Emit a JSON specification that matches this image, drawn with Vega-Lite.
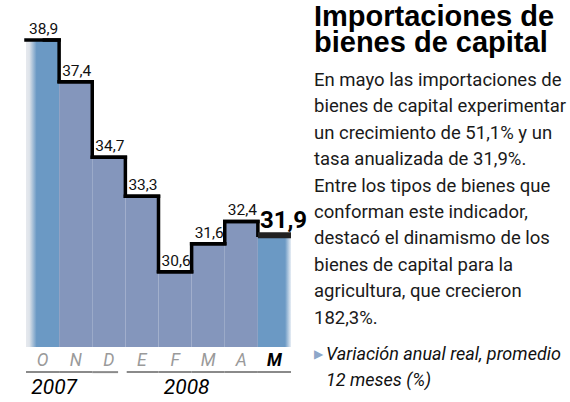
{
  "$schema": "https://vega.github.io/schema/vega-lite/v6.json",
  "autosize": {"type": "pad"},
  "padding": {"left": 23, "top": 0, "right": 0, "bottom": 0},
  "bounds": "flush",
  "spacing": 23,
  "datasets": {
    "serie": [
      {"mes": "2007-10", "anio": "2007", "valor": 38.9},
      {"mes": "2007-11", "anio": "2007", "valor": 37.4},
      {"mes": "2007-12", "anio": "2007", "valor": 34.7},
      {"mes": "2008-01", "anio": "2008", "valor": 33.3},
      {"mes": "2008-02", "anio": "2008", "valor": 30.6},
      {"mes": "2008-03", "anio": "2008", "valor": 31.6},
      {"mes": "2008-04", "anio": "2008", "valor": 32.4},
      {"mes": "2008-05", "anio": "2008", "valor": 31.9}
    ],
    "texto": [
      {"orden": 1, "tipo": "titulo", "linea": "Importaciones de"},
      {"orden": 2, "tipo": "titulo", "linea": "bienes de capital"},
      {"orden": 3, "tipo": "cuerpo", "linea": "En mayo las importaciones de"},
      {"orden": 4, "tipo": "cuerpo", "linea": "bienes de capital experimentar"},
      {"orden": 5, "tipo": "cuerpo", "linea": "un crecimiento de 51,1% y un"},
      {"orden": 6, "tipo": "cuerpo", "linea": "tasa anualizada de 31,9%."},
      {"orden": 7, "tipo": "cuerpo", "linea": "Entre los tipos de bienes que"},
      {"orden": 8, "tipo": "cuerpo", "linea": "conforman este indicador,"},
      {"orden": 9, "tipo": "cuerpo", "linea": "destacó el dinamismo de los"},
      {"orden": 10, "tipo": "cuerpo", "linea": "bienes de capital para la"},
      {"orden": 11, "tipo": "cuerpo", "linea": "agricultura, que crecieron"},
      {"orden": 12, "tipo": "cuerpo", "linea": "182,3%."},
      {"orden": 13, "tipo": "nota", "linea": "Variación anual real, promedio"},
      {"orden": 14, "tipo": "nota", "linea": "12 meses (%)"}
    ]
  },
  "hconcat": [
    {
      "width": 265,
      "height": 347,
      "data": {"name": "serie"},
      "encoding": {
        "x": {
          "field": "mes", "type": "ordinal",
          "scale": {"domain": ["2007-10","2007-11","2007-12","2008-01","2008-02","2008-03","2008-04","2008-05"], "paddingInner": 0, "paddingOuter": 0},
          "axis": {
            "title": null, "domain": false, "ticks": false, "labelAngle": 0, "labelPadding": 4, "zindex": 1,
            "labelFont": "Roboto, sans-serif",
            "labelFontSize": 17.5, "labelFontStyle": "italic",
            "labelColor": {"condition": {"test": "datum.value === '2008-05'", "value": "#000000"}, "value": "#9a9a9a"},
            "labelFontWeight": {"condition": {"test": "datum.value === '2008-05'", "value": "bold"}, "value": "normal"},
            "labelExpr": "{'2007-10':'O','2007-11':'N','2007-12':'D','2008-01':'E','2008-02':'F','2008-03':'M','2008-04':'A','2008-05':'M'}[datum.value]"
          }
        },
        "y": {
          "field": "valor", "type": "quantitative",
          "scale": {"domain": [27.9, 40.33], "nice": false, "zero": false},
          "axis": null
        }
      },
      "layer": [
        {
          "mark": {"type": "bar"},
          "encoding": {
            "y2": {"datum": 27.9},
            "color": {
              "condition": [
                {"test": "datum.mes === '2007-10'", "value": {"gradient": "linear", "x1": 0, "x2": 1, "y1": 0, "y2": 0, "stops": [{"offset": 0, "color": "#e6e9ee"}, {"offset": 0.1, "color": "#dfe4ea"}, {"offset": 0.32, "color": "#6b99c4"}, {"offset": 1, "color": "#6b99c4"}]}},
                {"test": "datum.mes === '2008-05'", "value": {"gradient": "linear", "x1": 0, "x2": 1, "y1": 0, "y2": 0, "stops": [{"offset": 0, "color": "#6b99c4"}, {"offset": 0.82, "color": "#6b99c4"}, {"offset": 1, "color": "#e8eef5"}]}}
              ],
              "value": "#8496bc"
            }
          }
        },
        {
          "mark": {"type": "line", "interpolate": "step", "color": "#000000", "strokeWidth": 3.5, "strokeJoin": "miter"},
          "encoding": {}
        },
        {
          "transform": [{"filter": "datum.mes !== '2008-05'"}],
          "mark": {"type": "rule", "color": "#000000", "strokeWidth": 3.5, "strokeCap": "square"},
          "encoding": {
            "x": {"field": "mes", "type": "ordinal", "bandPosition": 0},
            "x2": {"field": "mes", "bandPosition": 1}
          }
        },
        {
          "transform": [{"filter": "datum.mes === '2008-05'"}],
          "mark": {"type": "rule", "color": "#222222", "strokeWidth": 6},
          "encoding": {
            "x": {"field": "mes", "type": "ordinal", "bandPosition": 0},
            "x2": {"field": "mes", "bandPosition": 1}
          }
        },
        {
          "transform": [{"filter": "datum.mes !== '2008-05'"}],
          "mark": {"type": "text", "align": "left", "baseline": "alphabetic", "dx": 3, "dy": -6, "font": "Roboto, sans-serif", "fontSize": 15.5, "color": "#111111"},
          "encoding": {
            "x": {"field": "mes", "type": "ordinal", "bandPosition": 0},
            "text": {"field": "valor", "type": "quantitative", "format": ".1f"}
          }
        },
        {
          "transform": [{"filter": "datum.mes === '2008-05'"}],
          "mark": {"type": "text", "align": "left", "baseline": "alphabetic", "dx": 2, "dy": -7, "font": "Roboto, sans-serif", "fontSize": 24, "fontWeight": "bold", "color": "#000000"},
          "encoding": {
            "x": {"field": "mes", "type": "ordinal", "bandPosition": 0},
            "text": {"field": "valor", "type": "quantitative", "format": ".1f"}
          }
        },
        {
          "transform": [{"filter": "datum.mes !== '2007-12' && datum.mes !== '2008-01'"}],
          "mark": {"type": "rule", "color": "#8a8a8a", "strokeWidth": 2},
          "encoding": {
            "x": {"field": "mes", "type": "ordinal", "bandPosition": 0},
            "x2": {"field": "mes", "bandPosition": 1},
            "y": {"datum": 27.0, "type": "quantitative"}
          }
        },
        {
          "transform": [{"filter": "datum.mes === '2007-12'"}],
          "mark": {"type": "rule", "color": "#8a8a8a", "strokeWidth": 2},
          "encoding": {
            "x": {"field": "mes", "type": "ordinal", "bandPosition": 0},
            "x2": {"field": "mes", "bandPosition": 0.78},
            "y": {"datum": 27.0, "type": "quantitative"}
          }
        },
        {
          "transform": [{"filter": "datum.mes === '2008-01'"}],
          "mark": {"type": "rule", "color": "#8a8a8a", "strokeWidth": 2},
          "encoding": {
            "x": {"field": "mes", "type": "ordinal", "bandPosition": 0.04},
            "x2": {"field": "mes", "bandPosition": 1},
            "y": {"datum": 27.0, "type": "quantitative"}
          }
        },
        {
          "transform": [{"filter": "datum.mes === '2007-10' || datum.mes === '2008-02'"}],
          "mark": {"type": "text", "align": "center", "baseline": "top", "dy": 5, "font": "Roboto, sans-serif", "fontSize": 21, "fontStyle": "italic", "color": "#000000"},
          "encoding": {
            "x": {"field": "mes", "type": "ordinal", "bandPosition": 0.85},
            "y": {"datum": 27.0, "type": "quantitative"},
            "text": {"field": "anio"}
          }
        }
      ]
    },
    {
      "width": 257,
      "height": 347,
      "data": {"name": "texto"},
      "encoding": {
        "x": {"value": 0},
        "y": {"field": "orden", "type": "quantitative", "scale": {"domain": [-0.258, 12.886], "reverse": true, "nice": false, "zero": false}, "axis": null},
        "text": {"field": "linea"}
      },
      "layer": [
        {
          "transform": [{"filter": "datum.tipo === 'titulo'"}],
          "mark": {"type": "text", "align": "left", "baseline": "alphabetic", "dy": -7.5, "font": "Liberation Sans, Arial, sans-serif", "fontSize": 29, "fontWeight": "bold", "color": "#000000"}
        },
        {
          "transform": [{"filter": "datum.tipo === 'cuerpo'"}],
          "mark": {"type": "text", "align": "left", "baseline": "alphabetic", "font": "Roboto, sans-serif", "fontSize": 18.5, "color": "#1a1a1a"}
        },
        {
          "transform": [{"filter": "datum.tipo === 'nota'"}],
          "mark": {"type": "text", "align": "left", "baseline": "alphabetic", "dx": 12, "dy": 10, "font": "Roboto, sans-serif", "fontSize": 18, "fontStyle": "italic", "color": "#111111"}
        },
        {
          "transform": [{"filter": "datum.orden === 13"}],
          "mark": {"type": "text", "align": "left", "baseline": "alphabetic", "dx": 0, "dy": 8, "fontSize": 12, "color": "#8ea7c9"},
          "encoding": {"text": {"value": "▶"}}
        }
      ]
    }
  ],
  "config": {
    "view": {"stroke": null},
    "locale": {"number": {"decimal": ",", "thousands": ".", "grouping": [3], "currency": ["", " €"]}}
  }
}
